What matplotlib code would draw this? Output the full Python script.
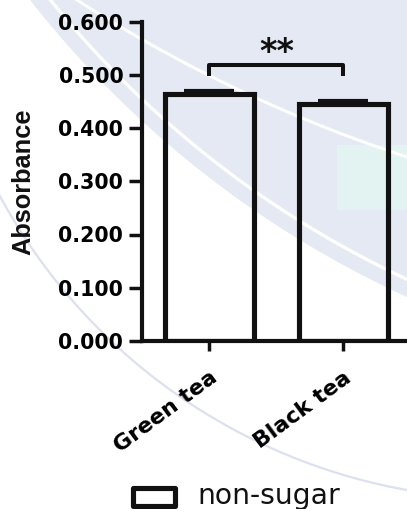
import numpy as np
import matplotlib
matplotlib.use('Agg')
import matplotlib.pyplot as plt
from matplotlib.patches import Circle, Rectangle
from matplotlib.legend_handler import HandlerPatch
from matplotlib.font_manager import FontProperties
import matplotlib.transforms as mtransforms

# ---- data ----
categories = ['Green tea', 'Black tea']
means = [0.464, 0.445]
sems = [0.005, 0.005]
series_label = 'non-sugar'
yticks = [0.0, 0.1, 0.2, 0.3, 0.4, 0.5, 0.6]
sig_text = '**'
sig_height = 0.518
sig_drop = 0.021

W, H = 407, 509
fig = plt.figure(figsize=(W / 100, H / 100), dpi=100)
fig.patch.set_facecolor('white')

# ---- faint background watermark shapes ----
bg = fig.add_axes([0, 0, 1, 1], zorder=0)
bg.set_xlim(0, W)
bg.set_ylim(H, 0)
bg.axis('off')


def circle3(p1, p2, p3):
    (x1, y1), (x2, y2), (x3, y3) = p1, p2, p3
    A = np.array([[x2 - x1, y2 - y1], [x3 - x1, y3 - y1]], float)
    b = 0.5 * np.array([x2**2 - x1**2 + y2**2 - y1**2,
                        x3**2 - x1**2 + y3**2 - y1**2])
    cx, cy = np.linalg.solve(A, b)
    return cx, cy, np.hypot(x1 - cx, y1 - cy)


def ring(cx, cy, r, color, lw):
    t = np.linspace(0, 2 * np.pi, 4000)
    bg.plot(cx + r * np.cos(t), cy + r * np.sin(t), color=color, lw=lw)


dcx, dcy, dr = circle3((30, 0), (175, 150), (407, 297))
bg.add_patch(Circle((dcx, dcy), dr, color='#e5e9f3', lw=0))
bg.add_patch(Rectangle((337, 145), 80, 65, color='#e3f3f1', lw=0))
ring(dcx, dcy, dr - 16, 'white', 2.4)
ring(*circle3((77, 0), (290, 113), (407, 157)), 'white', 2.2)
ring(*circle3((33, 250), (157, 380), (407, 490)), '#dde1ef', 1.6)

# ---- main axes ----
x = np.arange(len(categories))
ax_left, ax_right = 142, 437
ax_bottom, ax_top = 341, 21.5
ax = fig.add_axes([ax_left / W, (H - ax_bottom) / H,
                   (ax_right - ax_left) / W, (ax_bottom - ax_top) / H], zorder=1)
ax.patch.set_alpha(0)

ink = '#111111'
bars = ax.bar(x, means, width=0.665, facecolor='none', edgecolor=ink,
              linewidth=3.7, zorder=3)
ax.errorbar(x, means, yerr=[np.zeros(len(means)), sems], fmt='none',
            ecolor=ink, elinewidth=3, capsize=18, capthick=3, zorder=4)

ax.set_xlim(-0.504, 1.7)
ax.set_ylim(0, 0.6)
for s in ['top', 'right']:
    ax.spines[s].set_visible(False)
for s in ['left', 'bottom']:
    ax.spines[s].set_linewidth(3)
    ax.spines[s].set_color(ink)

tick_font = FontProperties(family='DejaVu Sans', weight='bold', size=14.8)
ax.set_yticks(yticks)
ax.set_yticklabels([f'{v:.3f}' for v in yticks], fontproperties=tick_font)
ax.tick_params(axis='y', length=9.5, width=2.5, pad=4, color=ink)

cat_font = FontProperties(family='DejaVu Sans', weight='bold', size=15.8)
ax.set_xticks(x)
ax.set_xticklabels(categories, fontproperties=cat_font, rotation=36.5,
                   ha='right', va='top', rotation_mode='anchor')
ax.tick_params(axis='x', length=7, width=2.5, pad=12, color=ink)

# significance bracket
ax.plot([0, 0, 1, 1],
        [sig_height - sig_drop, sig_height, sig_height, sig_height - sig_drop],
        color=ink, lw=2.9, solid_joinstyle='round', solid_capstyle='butt',
        clip_on=False, zorder=5)
ax.text(0.5, sig_height + 0.006, sig_text, ha='center', va='baseline',
        fontsize=24, fontweight='bold', family='DejaVu Sans', color=ink)

# y label
fig.text(23.5 / W, 1 - 181.5 / H, 'Absorbance', rotation=90, ha='center',
         va='center', family='Liberation Sans', fontweight='bold',
         fontsize=18.3, color=ink)

# legend
leg_fs = 20.3
fs_px = leg_fs * 100 / 72


def make_handle(legend, orig_handle, xdescent, ydescent, width, height, fontsize):
    return Rectangle((-xdescent, -ydescent - 2.5 * 72 / 100), width, height)


leg = fig.legend(handles=[bars.patches[0]], labels=[series_label],
                 loc='center left', bbox_to_anchor=(132.5 / W, 1 - 496 / H),
                 frameon=False, borderpad=0, borderaxespad=0,
                 handlelength=42 / fs_px, handleheight=17 / fs_px,
                 handletextpad=0.8,
                 prop=FontProperties(family='DejaVu Sans', size=leg_fs),
                 handler_map={Rectangle: HandlerPatch(patch_func=make_handle)})
leg.legend_handles[0].set_joinstyle('round')
for t in leg.get_texts():
    t.set_color(ink)

fig.savefig('out.png', dpi=100)
